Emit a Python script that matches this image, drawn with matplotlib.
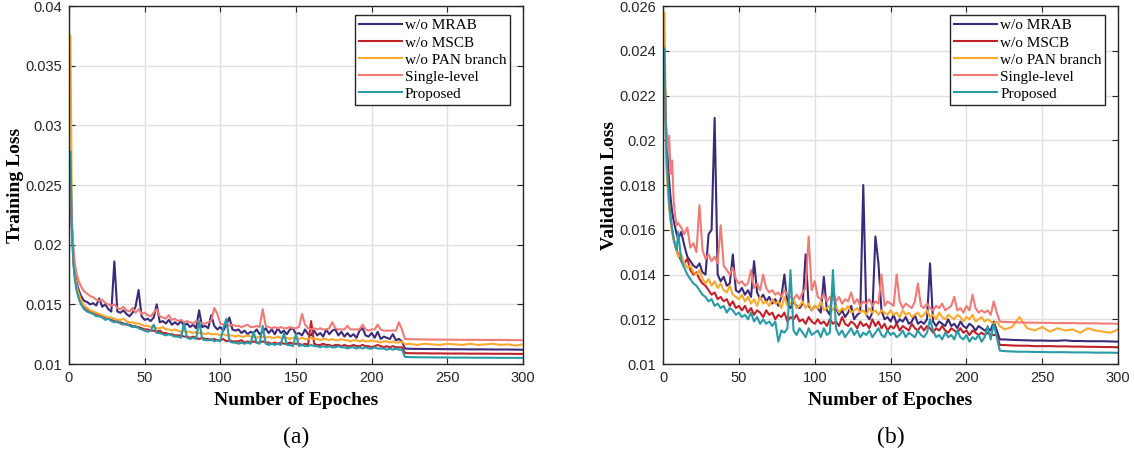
import matplotlib
matplotlib.use("Agg")
import matplotlib.pyplot as plt

epochs = list(range(1, 11)) + list(range(12, 221, 2)) + [222] + list(range(225, 301, 5))

names = ["w/o MRAB", "w/o MSCB", "w/o PAN branch", "Single-level", "Proposed"]
colors = ["#3b2a78", "#c0222a", "#fda92f", "#f07a76", "#2a9aa6"]

# ---- (a) training loss, in units of 1e-3 ----
train_mrab = [
    24.5, 21.5, 19.0, 17.6, 16.9, 16.4, 16.0, 15.7, 15.5, 15.3,
    15.2, 15.0, 15.1, 14.9, 15.5, 14.8, 15.0, 14.6, 14.4, 18.6,
    14.4, 14.3, 14.5, 14.2, 14.0, 14.3, 14.8, 16.2, 14.0, 13.7,
    13.8, 13.6, 13.9, 15.0, 13.5, 13.6, 13.4, 13.7, 13.3, 13.5,
    13.3, 13.6, 13.2, 13.4, 13.1, 13.3, 13.0, 14.5, 13.1, 13.2,
    13.0, 14.1, 13.2, 12.9, 13.1, 12.8, 13.3, 13.9, 12.9, 12.8,
    12.9, 12.6, 12.8, 12.5, 12.7, 12.6, 12.9, 12.5, 12.7, 13.0,
    12.6, 12.9, 12.5, 13.0, 12.6, 12.8, 12.5, 12.9, 13.0, 12.5,
    12.6, 12.4, 12.9, 12.5, 12.4, 12.8, 12.4, 12.6, 12.3, 12.9,
    12.5, 12.8, 12.9, 12.4, 12.7, 12.3, 12.6, 12.3, 12.5, 12.2,
    12.8, 13.0, 12.4, 12.3, 12.6, 12.2, 12.7, 12.1, 12.3, 12.2,
    12.1, 12.5, 12.0, 12.1, 11.9,
    11.30, 11.28, 11.27, 11.26, 11.26, 11.25, 11.25, 11.24, 11.24,
    11.23, 11.23, 11.23, 11.22, 11.22, 11.22, 11.21, 11.20]
train_mscb = [
    25.5, 21.0, 18.5, 17.2, 16.5, 16.0, 15.6, 15.3, 15.0, 14.8,
    14.6, 14.4, 14.3, 14.2, 14.1, 14.0, 13.9, 13.8, 13.7, 13.6,
    13.5, 13.5, 13.4, 13.3, 13.3, 13.2, 13.1, 13.1, 13.0, 12.9,
    12.9, 12.8, 12.8, 12.7, 12.8, 12.6, 12.6, 12.5, 12.5, 12.4,
    12.4, 12.4, 12.3, 12.3, 12.2, 12.3, 12.2, 12.1, 12.2, 12.1,
    12.1, 12.0, 12.1, 12.0, 12.0, 12.1, 11.9, 12.0, 11.9, 11.9,
    11.9, 12.0, 11.8, 11.9, 11.8, 11.9, 11.8, 11.8, 11.9, 11.8,
    11.8, 11.7, 11.8, 11.7, 11.8, 11.7, 11.7, 11.8, 11.7, 11.7,
    11.7, 11.6, 11.7, 11.6, 13.6, 11.7, 11.6, 11.6, 11.7, 11.6,
    11.6, 11.5, 11.6, 11.6, 11.5, 11.6, 11.5, 11.5, 11.6, 11.5,
    11.5, 11.6, 11.5, 11.5, 11.4, 11.5, 11.6, 11.5, 11.4, 11.5,
    11.4, 11.5, 11.4, 11.4, 11.4,
    10.92, 10.91, 10.90, 10.90, 10.89, 10.89, 10.88, 10.88, 10.88,
    10.87, 10.87, 10.87, 10.86, 10.86, 10.86, 10.85, 10.85]
train_pan = [
    37.5, 21.5, 18.8, 17.4, 16.6, 16.1, 15.7, 15.4, 15.1, 14.9,
    14.7, 14.5, 14.4, 14.3, 14.2, 14.1, 14.0, 13.9, 13.9, 13.8,
    13.7, 13.7, 13.8, 13.6, 13.5, 13.5, 13.4, 13.4, 13.3, 13.2,
    13.2, 13.1, 13.2, 13.0, 13.0, 13.1, 12.9, 12.9, 12.8, 12.9,
    12.8, 12.7, 12.8, 12.7, 12.7, 12.6, 12.7, 12.6, 12.6, 12.5,
    12.6, 12.5, 12.5, 12.5, 12.4, 12.5, 12.4, 12.4, 12.4, 12.3,
    12.4, 12.3, 12.3, 12.4, 12.3, 12.3, 12.2, 12.3, 12.3, 12.2,
    12.3, 12.2, 12.2, 12.3, 12.2, 12.2, 12.2, 12.1, 12.2, 12.2,
    12.1, 12.2, 12.1, 12.1, 12.2, 12.1, 12.1, 12.0, 12.1, 12.1,
    12.0, 12.1, 12.0, 12.0, 12.1, 12.0, 12.0, 11.9, 12.0, 12.0,
    11.9, 12.0, 11.9, 11.9, 12.0, 11.9, 11.9, 11.8, 11.9, 11.9,
    11.8, 11.9, 11.8, 11.8, 11.9,
    11.65, 11.70, 11.60, 11.70, 11.65, 11.60, 11.70, 11.65, 11.60,
    11.70, 11.60, 11.65, 11.70, 11.60, 11.65, 11.55, 11.65]
train_single = [
    25.0, 21.5, 19.5, 18.3, 17.6, 17.1, 16.8, 16.5, 16.3, 16.1,
    15.9, 15.7, 15.6, 15.4, 15.3, 15.4, 15.1, 15.0, 14.9, 15.0,
    14.7, 14.6, 14.8, 14.5, 14.4, 14.7, 14.3, 14.6, 14.2, 14.3,
    14.1, 14.0, 14.3, 14.6, 14.0, 13.9, 13.8, 14.1, 13.7, 13.8,
    13.6, 13.7, 13.5, 13.6, 13.5, 13.4, 13.6, 13.5, 13.4, 13.4,
    13.5, 13.6, 14.7, 14.2, 13.4, 13.3, 13.4, 13.2, 13.3, 13.2,
    13.2, 13.1, 13.2, 13.3, 13.1, 13.1, 13.2, 13.1, 14.6, 13.2,
    13.1, 13.0, 13.1, 13.0, 13.1, 13.0, 13.0, 13.1, 13.0, 13.0,
    13.1, 14.2, 13.3, 13.0, 12.9, 13.0, 12.9, 13.0, 12.9, 12.9,
    13.0, 13.5, 13.0, 12.9, 12.9, 12.9, 13.2, 12.9, 12.9, 12.9,
    12.9, 13.3, 12.9, 12.8, 12.9, 12.9, 13.3, 12.9, 12.8, 12.8,
    12.8, 12.8, 12.8, 13.5, 12.9,
    12.10, 12.08, 12.07, 12.06, 12.05, 12.05, 12.04, 12.04, 12.03,
    12.03, 12.03, 12.02, 12.02, 12.02, 12.01, 12.01, 12.00]
train_prop = [
    27.8, 21.0, 18.3, 17.0, 16.2, 15.7, 15.3, 15.0, 14.8, 14.6,
    14.4, 14.3, 14.2, 14.0, 14.0, 13.9, 13.7, 13.8, 13.6, 13.5,
    13.6, 13.4, 13.3, 13.4, 13.2, 13.1, 13.2, 13.0, 12.9, 12.8,
    12.7, 12.8, 13.3, 12.6, 12.6, 12.5, 12.4, 12.5, 12.4, 12.3,
    12.3, 12.2, 13.4, 12.2, 12.1, 12.2, 12.1, 13.6, 12.1, 12.0,
    12.0, 12.1, 11.9, 12.0, 11.9, 13.0, 13.8, 11.9, 11.8, 11.8,
    11.7, 11.8, 11.7, 11.8, 11.7, 12.7, 11.8, 11.7, 13.2, 11.7,
    11.6, 11.7, 11.6, 11.7, 11.6, 12.6, 11.6, 11.6, 11.5, 12.5,
    11.5, 11.6, 11.5, 11.5, 11.6, 11.5, 11.5, 11.4, 11.5, 11.4,
    11.5, 11.4, 11.4, 11.5, 11.4, 11.4, 11.3, 11.4, 11.4, 11.3,
    11.4, 11.3, 11.4, 11.3, 11.3, 11.4, 11.3, 11.3, 11.3, 11.2,
    11.3, 11.2, 11.3, 11.2, 11.2,
    10.60, 10.58, 10.57, 10.56, 10.56, 10.55, 10.55, 10.54, 10.54,
    10.54, 10.53, 10.53, 10.53, 10.52, 10.52, 10.52, 10.52]

# ---- (b) validation loss, in units of 1e-3 ----
val_mrab = [
    23.0, 20.5, 19.2, 18.2, 17.4, 16.8, 16.4, 16.1, 15.8, 15.6,
    15.9, 15.3, 14.8, 14.6, 14.4, 14.3, 14.5, 14.1, 14.0, 15.8,
    16.0, 21.0, 14.0, 13.7, 13.9, 13.5, 13.6, 14.9, 13.3, 13.2,
    13.4, 13.1, 13.3, 13.0, 14.6, 13.2, 12.9, 13.1, 12.8, 13.0,
    12.7, 12.9, 12.6, 13.0, 14.0, 12.7, 12.5, 12.8, 12.6, 12.5,
    12.7, 14.9, 12.6, 12.4, 12.6, 12.5, 12.3, 13.9, 12.4, 12.2,
    13.5, 12.5, 12.2, 12.4, 12.1, 12.3, 12.6, 12.0, 12.2, 12.3,
    18.0, 12.2, 12.0, 12.3, 15.7, 14.5, 12.4, 12.0, 12.1, 11.9,
    12.2, 11.8, 12.0, 11.9, 12.1, 11.8, 11.9, 12.2, 11.8, 11.9,
    11.8, 12.0, 14.5, 11.9, 11.7, 11.9, 11.8, 11.7, 12.0, 11.7,
    11.8, 11.6, 11.9, 11.7, 11.6, 11.8, 11.7, 11.5, 11.7, 11.6,
    11.5, 11.6, 11.5, 11.9, 11.5,
    11.10, 11.10, 11.08, 11.07, 11.06, 11.05, 11.05, 11.04, 11.04,
    11.06, 11.03, 11.03, 11.02, 11.02, 11.02, 11.01, 11.00]
val_mscb = [
    23.3, 20.0, 18.5, 17.3, 16.5, 16.0, 15.6, 15.3, 15.1, 14.9,
    14.6, 14.5, 14.7, 14.2, 14.0, 14.1, 13.8, 13.6, 13.5, 13.3,
    13.1, 13.2, 12.9, 13.0, 12.8, 12.9, 12.6, 12.8, 12.5, 12.6,
    12.4, 12.6, 12.3, 12.5, 12.2, 12.4, 12.3, 12.1, 12.4, 12.2,
    12.3, 12.0, 12.2, 12.1, 12.3, 11.9, 12.1, 12.0, 12.2, 11.9,
    12.0, 11.8, 12.1, 11.9, 11.8, 12.0, 11.8, 11.9, 11.7, 12.0,
    11.8, 11.9, 11.7, 12.1, 11.8, 11.7, 11.9, 11.8, 11.6, 11.9,
    11.7, 11.8, 11.6, 12.0, 11.7, 11.9, 11.6, 11.8, 11.5, 11.7,
    11.6, 11.8, 11.5, 11.7, 11.6, 11.5, 11.8, 11.6, 11.5, 11.7,
    11.5, 11.7, 11.6, 11.4, 11.6, 11.5, 11.7, 11.5, 11.4, 11.6,
    11.5, 11.4, 11.6, 11.4, 11.5, 11.3, 11.5, 11.4, 11.3, 11.4,
    11.3, 11.4, 11.3, 11.3, 11.3,
    10.85, 10.85, 10.83, 10.82, 10.82, 10.80, 10.80, 10.80, 10.79,
    10.79, 10.78, 10.78, 10.77, 10.77, 10.76, 10.76, 10.75]
val_pan = [
    25.7, 19.0, 18.0, 17.0, 16.3, 15.9, 15.5, 15.3, 15.0, 14.8,
    14.9, 14.5, 14.3, 14.4, 14.1, 14.0, 14.2, 13.8, 13.6, 13.8,
    13.5, 13.7, 13.4, 13.6, 13.3, 13.2, 13.5, 13.1, 13.0, 12.9,
    13.1, 12.8, 13.0, 12.7, 12.9, 12.6, 13.0, 12.7, 12.8, 12.6,
    12.9, 12.7, 12.8, 12.5, 13.0, 12.6, 12.7, 12.9, 12.5, 12.6,
    12.8, 12.5, 12.7, 12.4, 12.6, 12.5, 12.8, 12.4, 12.5, 12.6,
    12.4, 12.6, 12.3, 12.5, 12.4, 12.6, 12.3, 12.4, 12.5, 12.3,
    12.4, 12.2, 12.5, 12.3, 12.4, 12.2, 12.4, 12.3, 12.2, 12.4,
    12.2, 12.3, 12.1, 12.4, 12.2, 12.3, 12.1, 12.2, 12.3, 12.1,
    12.2, 12.4, 12.1, 12.2, 12.0, 12.3, 12.1, 12.0, 12.2, 12.1,
    12.0, 12.2, 12.1, 11.9, 12.1, 12.0, 12.2, 11.9, 12.0, 12.1,
    11.9, 12.0, 11.9, 11.8, 11.9,
    11.70, 11.55, 11.65, 12.10, 11.60, 11.50, 11.65, 11.45, 11.60,
    11.50, 11.55, 11.40, 11.60, 11.50, 11.45, 11.40, 11.55]
val_single = [
    22.0, 20.8, 19.6, 20.2, 18.5, 19.1, 17.3, 16.6, 16.2, 16.3,
    16.1, 15.8, 16.1, 15.2, 15.4, 15.0, 17.1, 15.1, 14.7, 14.9,
    14.6, 14.8, 14.5, 16.2, 14.4, 14.2, 14.0, 14.3, 13.8, 13.6,
    13.7, 13.5, 13.6, 14.2, 13.4, 13.6, 13.3, 14.0, 13.4, 13.2,
    13.3, 13.1, 13.2, 13.0, 13.3, 13.1, 13.0, 12.9, 13.1, 12.9,
    13.2, 13.4, 15.7, 13.3, 13.7, 13.0, 12.9, 13.1, 12.8, 13.0,
    12.9, 12.8, 13.0, 12.7, 12.9, 12.8, 13.2, 12.7, 12.9, 12.6,
    12.8, 12.7, 12.9, 12.6, 12.8, 12.7, 14.0, 12.6, 12.8, 12.7,
    12.6, 14.0, 12.8, 12.5, 12.7, 12.6, 12.5, 12.8, 13.6, 12.6,
    12.5, 12.7, 12.5, 12.4, 12.6, 12.5, 12.7, 12.4, 12.5, 12.6,
    13.0, 12.4, 12.5, 12.3, 12.6, 12.4, 13.1, 12.5, 12.3, 12.4,
    12.3, 12.4, 12.2, 12.8, 12.3,
    11.90, 11.88, 11.87, 11.86, 11.85, 11.85, 11.84, 11.84, 11.83,
    11.83, 11.83, 11.82, 11.82, 11.82, 11.81, 11.81, 11.80]
val_prop = [
    24.1, 19.8, 18.3, 17.2, 16.5, 16.0, 15.6, 15.3, 15.1, 15.9,
    14.6, 14.3, 14.0, 13.8, 13.6, 13.5, 13.3, 13.1, 13.0, 12.8,
    12.9, 12.6, 12.7, 12.5, 12.6, 12.3, 12.5, 12.4, 12.2, 12.3,
    12.1, 12.2, 12.0, 12.3, 11.9, 12.1, 11.8, 12.0, 11.8, 11.9,
    11.7, 11.9, 11.0, 11.5, 11.4, 11.6, 14.2, 11.5, 11.3, 11.6,
    11.4, 11.2, 11.6, 11.3, 11.4, 11.5, 11.2, 11.6, 11.3, 11.4,
    14.2, 11.6, 11.3, 11.5, 11.2, 11.4, 11.6, 11.3, 11.5, 11.2,
    11.4, 11.3, 11.5, 11.2, 11.4, 11.6, 11.3, 11.2, 11.5, 11.3,
    11.4, 11.2, 11.3, 11.5, 11.2, 11.4, 11.3, 11.2, 11.5, 11.3,
    11.2, 11.4, 12.0, 11.5, 11.2, 11.3, 11.1, 11.4, 11.2, 11.3,
    11.1, 11.5, 11.2, 11.1, 11.3, 11.0, 11.2, 11.1, 11.3, 11.0,
    11.2, 11.7, 11.1, 11.8, 11.2,
    10.60, 10.58, 10.56, 10.55, 10.55, 10.54, 10.54, 10.53, 10.53,
    10.53, 10.52, 10.52, 10.52, 10.51, 10.51, 10.51, 10.50]

panels = [
    ([train_mrab, train_mscb, train_pan, train_single, train_prop],
     "Training Loss", (0.01, 0.04), [0.01, 0.015, 0.02, 0.025, 0.03, 0.035, 0.04],
     ["0.01", "0.015", "0.02", "0.025", "0.03", "0.035", "0.04"], "(a)"),
    ([val_mrab, val_mscb, val_pan, val_single, val_prop],
     "Validation Loss", (0.01, 0.026), [0.01, 0.012, 0.014, 0.016, 0.018, 0.02, 0.022, 0.024, 0.026],
     ["0.01", "0.012", "0.014", "0.016", "0.018", "0.02", "0.022", "0.024", "0.026"], "(b)"),
]

serif = ["Liberation Serif", "DejaVu Serif"]
plt.rcParams["font.family"] = ["Liberation Sans", "DejaVu Sans"]

fig = plt.figure(figsize=(11.34, 4.5), dpi=100)
ax_pos = [[0.0608, 0.191, 0.4004, 0.7956], [0.5847, 0.191, 0.4013, 0.7956]]

for pos, (series, ylab, ylim, yt, ytl, tag) in zip(ax_pos, panels):
    ax = fig.add_axes(pos)
    for vals, name, c in zip(series, names, colors):
        ax.plot(epochs, [v / 1000 for v in vals], color=c, lw=1.5, label=name)
    ax.set_xlim(0, 300)
    ax.set_ylim(*ylim)
    ax.set_xticks([0, 50, 100, 150, 200, 250, 300])
    ax.set_yticks(yt)
    ax.set_yticklabels(ytl)
    ax.grid(True, color="#e0e0e0", lw=1.0)
    ax.set_axisbelow(True)
    ax.tick_params(direction="in", length=4, top=True, right=True,
                   labelsize=10.5, colors="#262626", pad=5)
    for s in ax.spines.values():
        s.set_color("#262626")
        s.set_linewidth(1.0)
    ax.set_xlabel("Number of Epoches", family=serif, fontsize=14, fontweight="bold", labelpad=5)
    ax.set_ylabel(ylab, family=serif, fontsize=14, fontweight="bold", labelpad=1)
    leg = ax.legend(loc="upper right", bbox_to_anchor=(0.972, 0.975), borderaxespad=0,
                    prop={"family": serif, "size": 11}, handlelength=2.8,
                    handletextpad=0.2, labelspacing=0.22, borderpad=0.25,
                    fancybox=False, framealpha=1, edgecolor="#262626")
    leg.get_frame().set_linewidth(1.0)
    ax.text(0.5, -0.204, tag, transform=ax.transAxes, ha="center", va="center",
            family=serif, fontsize=17)

fig.savefig("out.png", dpi=100)
